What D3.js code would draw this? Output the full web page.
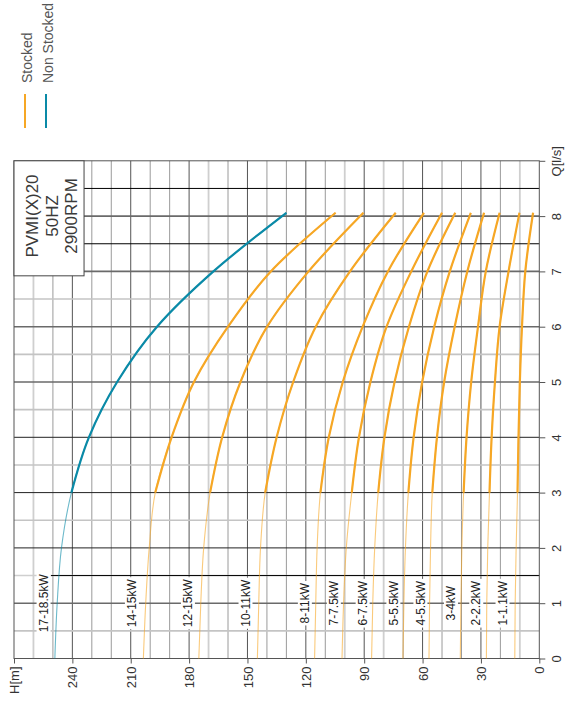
<!DOCTYPE html>
<html lang="en">
<head>
<meta charset="UTF-8">
<title>PVMI(X)20 50HZ 2900RPM</title>
<script src="https://cdnjs.cloudflare.com/ajax/libs/d3/7.8.5/d3.min.js"></script>
<style>
  body { margin: 0; background: #fff; }
  svg text { font-family: Arial, "Liberation Sans", sans-serif; }
</style>
</head>
<body>
<svg id="chart" width="566" height="702"></svg>
<script>
// flow points (l/s) at which each curve was read
var flowPoints = [0, 1, 2, 3, 4, 5, 6, 7, 8.06];

var pumpNames = ["17-18.5kW", "14-15kW", "12-15kW", "10-11kW", "8-11kW", "7-7.5kW",
                 "6-7.5kW", "5-5.5kW", "4-5.5kW", "3-4kW", "2-2.2kW", "1-1.1kW"];
var pumpStocked = [false, true, true, true, true, true, true, true, true, true, true, true];

// head (m) at each flow point
var pumpHeads = [
    [249, 247.8, 245.6, 240.5, 231.5, 217, 196.5, 167.5, 130],
    [203.5, 202.3, 200.5, 197.4, 189, 177.5, 160, 138, 104.7],
    [175, 174, 172.5, 169.2, 163, 153.6, 139.9, 118.6, 90.4],
    [144.9, 144.2, 143.3, 140.9, 135, 126.5, 114.9, 97.3, 73.8],
    [115.5, 114.9, 114.2, 112.5, 108.2, 101, 90.8, 77.8, 59.3],
    [101.4, 100.6, 99.2, 96.4, 92.7, 86.8, 78.5, 65.8, 50],
    [86.2, 85.6, 84.6, 82.8, 79.6, 74.4, 67, 57.5, 43.2],
    [70.1, 69.6, 68.8, 67.3, 64.6, 60.2, 54, 46, 35.2],
    [56.7, 56.4, 55.9, 55, 52.6, 48.9, 43.5, 37, 28.4],
    [40.6, 40.3, 39.8, 38.9, 37.4, 35, 31.5, 27.5, 20.4],
    [27.2, 27, 26.5, 25.6, 24.5, 22.8, 20.4, 15.8, 10.2],
    [12.6, 12.4, 11.9, 11.2, 10.7, 10, 8.9, 7.2, 3.2]
];

// head position of each power label (drawn at Q = 1)
var labelHeads = [254.8, 209.4, 180.6, 151, 120.5, 105.6, 90.8, 75, 61.1, 45.4, 32.4, 18.9];

var headTicks = [0, 30, 60, 90, 120, 150, 180, 210, 240, 270];
var flowTicks = [0, 1, 2, 3, 4, 5, 6, 7, 8, 9];
var seriesNames = ["Stocked", "Non Stocked"];
var titleLines = ["PVMI(X)20", "50HZ", "2900RPM"];

var orange = "#f6a725", blue = "#0a8aa7";

var svg = d3.select("#chart");

var x = d3.scaleLinear().domain([0, 270]).range([539.3, 14]);
var y = d3.scaleLinear().domain([0, 9]).range([658.5, 160.8]);

// grid
var grid = svg.append("g");
var lightH = [10, 80, 100, 170, 260];
var vLines = d3.range(10, 270, 10);
grid.selectAll(".v").data(vLines).enter().append("line")
    .attr("x1", function (d) { return x(d); }).attr("x2", function (d) { return x(d); })
    .attr("y1", y(0)).attr("y2", y(9))
    .attr("stroke", function (d) {
        if (d % 30 == 0) return "#555";
        if (lightH.indexOf(d) >= 0) return "#cfcfcf";
        return "#9a9a9a";
    })
    .attr("stroke-width", function (d) { return lightH.indexOf(d) >= 0 ? 1.8 : 1; });

var hLines = d3.range(0.5, 9, 0.5);
grid.selectAll(".h").data(hLines).enter().append("line")
    .attr("x1", x(270)).attr("x2", x(0))
    .attr("y1", function (d) { return y(d); }).attr("y2", function (d) { return y(d); })
    .attr("stroke", function (d) {
        if (d == 1.5) return "#cfcfcf";
        if (d == 7.5 || d == 8.5) return "#000";
        if (d == 2 || d == 3 || d == 4) return "#222";
        if (d % 1 == 0) return "#6a6a6a";
        return "#c4c4c4";
    })
    .attr("stroke-width", function (d) {
        if (d == 7.5 || d == 8.5 || d == 2 || d == 3 || d == 4) return 1;
        return 1.6;
    });
// black part of the Q = 1.5 line
grid.append("line")
    .attr("x1", x(251)).attr("x2", x(0))
    .attr("y1", y(1.5)).attr("y2", y(1.5))
    .attr("stroke", "#000").attr("stroke-width", 1);

svg.append("rect")
    .attr("x", x(270)).attr("y", y(9))
    .attr("width", x(0) - x(270)).attr("height", y(0) - y(9))
    .attr("fill", "none").attr("stroke", "#555").attr("stroke-width", 1);

// title box
svg.append("rect")
    .attr("x", x(270)).attr("y", y(9))
    .attr("width", x(234) - x(270)).attr("height", y(6.92) - y(9))
    .attr("fill", "#fff").attr("stroke", "#444").attr("stroke-width", 1);
titleLines.forEach(function (t, i) {
    svg.append("text")
        .attr("transform", "translate(" + (38.3 + i * 19.5) + ",216) rotate(-90)")
        .attr("text-anchor", "middle")
        .attr("font-size", 17).attr("fill", "#3a3a3a")
        .text(t);
});

// power labels
var labels = svg.append("g");
pumpNames.forEach(function (name, i) {
    var g = labels.append("g")
        .attr("transform", "translate(" + x(labelHeads[i]) + "," + y(1) + ") rotate(-90)");
    var bg = g.append("rect").attr("fill", "#fff");
    var t = g.append("text")
        .attr("text-anchor", "middle").attr("dy", "0.35em")
        .attr("font-size", 12).attr("fill", "#222")
        .text(name);
    var w = t.node().getComputedTextLength();
    bg.attr("x", -w / 2 - 2).attr("width", w + 4).attr("y", -7).attr("height", 14);
});

// curves: thin over the whole range, bold from Q = 3
var line = d3.line()
    .x(function (d) { return x(d.h); })
    .y(function (d) { return y(d.q); })
    .curve(d3.curveMonotoneY);

pumpHeads.forEach(function (heads, i) {
    var pts = flowPoints.map(function (q, j) { return {q: q, h: heads[j]}; });
    var col = pumpStocked[i] ? orange : blue;
    svg.append("path").datum(pts).attr("d", line)
        .attr("fill", "none").attr("stroke", col)
        .attr("stroke-width", 1.1).attr("opacity", 0.6);
    svg.append("path").datum(pts.filter(function (d) { return d.q >= 3; })).attr("d", line)
        .attr("fill", "none").attr("stroke", col)
        .attr("stroke-width", 2.2);
});

// axes
var hAxis = svg.append("g")
    .attr("transform", "translate(0," + y(0) + ")")
    .call(d3.axisBottom(x).tickValues(headTicks).tickSize(5)
        .tickFormat(function (d) { return d == 270 ? "H[m]" : d; }));
hAxis.select(".domain").remove();
hAxis.selectAll("line").attr("stroke", "#555");
hAxis.selectAll("text")
    .attr("transform", "rotate(-90)").attr("text-anchor", "end")
    .attr("x", -8).attr("y", 0).attr("dy", "0.35em")
    .attr("font-size", 13).attr("font-family", null).attr("fill", "#333");

var qAxis = svg.append("g")
    .attr("transform", "translate(" + x(0) + ",0)")
    .call(d3.axisRight(y).tickValues(flowTicks).tickSize(6)
        .tickFormat(function (d) { return d == 9 ? "Q[l/s]" : d; }));
qAxis.select(".domain").remove();
qAxis.selectAll("line").attr("stroke", "#555");
qAxis.selectAll("text")
    .attr("transform", "translate(17.5,0) rotate(-90)").attr("text-anchor", "middle")
    .attr("x", 0).attr("y", 0).attr("dy", "0.35em")
    .attr("font-size", 13).attr("font-family", null).attr("fill", "#333");

// legend
seriesNames.forEach(function (name, i) {
    svg.append("text")
        .attr("transform", "translate(" + (31.7 + i * 21.6) + ",83) rotate(-90)")
        .attr("font-size", 14).attr("fill", "#555")
        .text(name);
    svg.append("line")
        .attr("x1", 25 + i * 21).attr("x2", 25 + i * 21)
        .attr("y1", 94).attr("y2", 128)
        .attr("stroke", i == 0 ? orange : blue).attr("stroke-width", 2);
});
</script>
</body>
</html>
